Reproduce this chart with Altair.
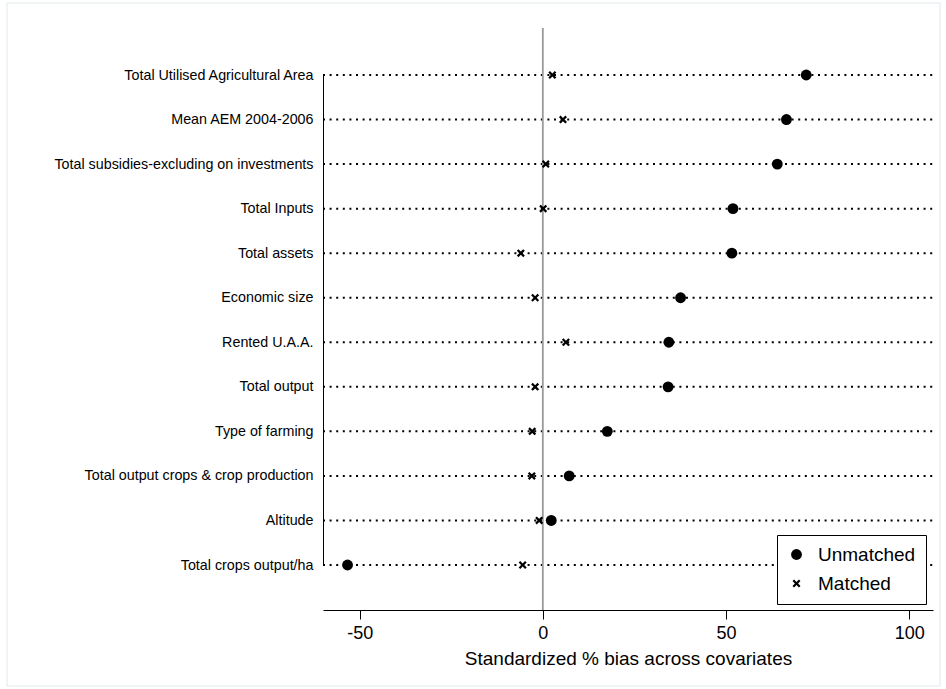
import altair as alt
import pandas as pd

covariates = [
    "Total Utilised Agricultural Area",
    "Mean AEM 2004-2006",
    "Total subsidies-excluding on investments",
    "Total Inputs",
    "Total assets",
    "Economic size",
    "Rented U.A.A.",
    "Total output",
    "Type of farming",
    "Total output crops & crop production",
    "Altitude",
    "Total crops output/ha",
]
unmatched = [71.9, 66.5, 64.0, 51.9, 51.6, 37.6, 34.4, 34.2, 17.6, 7.2, 2.3, -53.3]
matched = [2.6, 5.5, 0.8, 0.1, -6.0, -2.1, 6.3, -2.1, -2.9, -3.0, -1.0, -5.5]
x_ticks = [-50, 0, 50, 100]
groups = ["Unmatched", "Matched"]

rows = []
for c, u, m in zip(covariates, unmatched, matched):
    rows.append({"covariate": c, "sample": "Unmatched", "bias": u})
    rows.append({"covariate": c, "sample": "Matched", "bias": m})
df = pd.DataFrame(rows)
cov_df = pd.DataFrame({"covariate": covariates})
zero_df = pd.DataFrame({"z": [0]})
frame_df = pd.DataFrame({"k": [0]})

FONT = "Liberation Sans"
W, H = 610, 582
XPATH = "M-1,-0.6L-0.6,-1L0,-0.4L0.6,-1L1,-0.6L0.4,0L1,0.6L0.6,1L0,0.4L-0.6,1L-1,0.6L-0.4,0Z"

x_scale = alt.Scale(domain=[-60, 106.5], nice=False, zero=False)
x_axis = alt.Axis(
    values=x_ticks, title="Standardized % bias across covariates", grid=False,
    tickSize=9, tickColor="black", domainColor="black", labelColor="black",
    labelFontSize=18, labelFont=FONT, labelPadding=5, titleFont=FONT,
    labelExpr="datum.value + ''",
    titleFontSize=19, titleFontWeight="normal", titleColor="black", titlePadding=7,
)
y_scale = alt.Scale(type="point", padding=0, range=[47, 537])
y_axis = alt.Axis(
    title=None, ticks=False, grid=False, labelPadding=10, labelFontSize=14.3,
    labelFont=FONT, labelColor="black", domainColor="black", labelLimit=400,
)
legend = alt.Legend(
    title=None, orient="none", legendX=454, legendY=507, strokeColor="black",
    fillColor="white", padding=10, labelFontSize=19, labelFont=FONT,
    labelColor="black", labelOffset=12, rowPadding=9,
    symbolFillColor="black", symbolStrokeWidth=0,
)

frame = alt.Chart(frame_df).mark_rect(fillOpacity=0, stroke="#dfe8eb", strokeWidth=1).encode(
    x=alt.value(-316), x2=alt.value(617), y=alt.value(-25), y2=alt.value(658)
)

dotted = alt.Chart(cov_df).mark_rule(
    color="black", strokeWidth=2, strokeDash=[2, 4.6]
).encode(
    y=alt.Y("covariate:N", sort=covariates, scale=y_scale, axis=y_axis),
    x=alt.value(0), x2=alt.value(W),
)

zero = alt.Chart(zero_df).mark_rule(color="#9a9a9a", strokeWidth=1.8).encode(
    x=alt.X("z:Q", scale=x_scale, axis=x_axis)
)

points = alt.Chart(df).mark_point(filled=True, opacity=1, color="black").encode(
    x=alt.X("bias:Q", scale=x_scale, axis=x_axis),
    y=alt.Y("covariate:N", sort=covariates, scale=y_scale, axis=y_axis),
    shape=alt.Shape("sample:N", scale=alt.Scale(domain=groups, range=["circle", XPATH]), legend=legend),
    size=alt.Size("sample:N", scale=alt.Scale(domain=groups, range=[118, 64]), legend=legend),
)

chart = alt.layer(frame, dotted, zero, points).properties(
    width=W, height=H,
    autosize=alt.AutoSizeParams(type="none"),
    padding={"left": 323, "top": 28, "right": 13, "bottom": 79},
    background="white",
).configure_view(strokeWidth=0)

chart.save("out.html", embed_options={"renderer": "svg", "actions": False})
